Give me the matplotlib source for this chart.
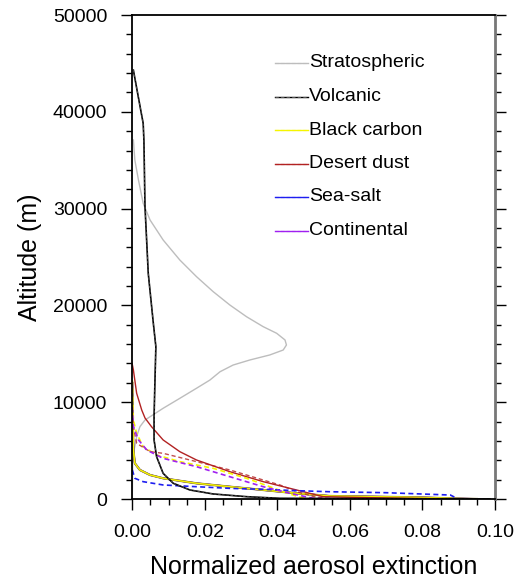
import matplotlib
matplotlib.use("Agg")
import matplotlib.pyplot as plt
from matplotlib.ticker import MultipleLocator

plt.rcParams['font.family'] = ['Liberation Sans', 'DejaVu Sans']

# --- data (altitude in m, normalized extinction) ---
strat_alt = [37090, 35020, 32950, 30550, 28820, 26760, 24690, 22970, 21420, 20040,
             18830, 17800, 17120, 16430, 15910, 15390, 14880, 14360, 13840, 13150,
             12290, 11440, 10400, 9370, 8500, 8160, 7470, 6440, 5060, 3720, 0]
strat_ext = [0.0003, 0.0007, 0.0017, 0.003, 0.0049, 0.0085, 0.0131, 0.0177, 0.0223, 0.0269,
             0.0315, 0.0361, 0.0398, 0.0421, 0.0425, 0.0416, 0.0379, 0.0324, 0.0278, 0.0242,
             0.0214, 0.0177, 0.0131, 0.0085, 0.0049, 0.0035, 0.0021, 0.0012, 0.0005, 0.0001, 0.0]

volc_alt = [44300, 38800, 37090, 30200, 23310, 18150, 15730, 12990, 8500, 6100, 4370,
            2650, 1620, 930, 520, 240, 70, 0]
volc_ext = [0.0003, 0.003, 0.0032, 0.0035, 0.0044, 0.0058, 0.0065, 0.0063, 0.006, 0.006, 0.0067,
            0.0085, 0.0113, 0.0159, 0.0223, 0.0315, 0.0407, 0.0986]

bc_alt = [12000, 9000, 7000, 5060, 3690, 3000, 2480, 2140, 1620, 1270, 930, 590, 310, 170, 70, 0]
bc_ext = [0.0, 0.0001, 0.0002, 0.0003, 0.0007, 0.0021, 0.0049, 0.0085, 0.0177, 0.0269, 0.0361,
          0.0453, 0.0545, 0.0787, 0.0877, 0.095]

bc_d_alt = [12300, 10000, 8160, 6790, 5400, 4550, 3860, 3170, 2140, 1270, 520, 0]
bc_d_ext = [0.0, 0.0001, 0.0003, 0.0012, 0.003, 0.0067, 0.0131, 0.0223, 0.0315, 0.0379, 0.0434, 0.048]

dust_alt = [13900, 13330, 10920, 9190, 8370, 7470, 6100, 4890, 4030, 2820, 1790, 930, 240, 100, 0]
dust_ext = [0.0, 0.0003, 0.0012, 0.0026, 0.0035, 0.0053, 0.0085, 0.0131, 0.0177, 0.0269, 0.0361,
            0.0453, 0.0526, 0.070, 0.09]

dust_d_alt = [9000, 7470, 5750, 4890, 4720, 3860, 3000, 1960, 1450, 750, 170, 0]
dust_d_ext = [0.0, 0.0003, 0.0012, 0.0049, 0.0085, 0.0177, 0.0269, 0.0361, 0.0407, 0.0453, 0.0508, 0.056]

salt_d_alt = [3000, 2140, 1790, 1450, 1270, 1100, 1000, 860, 750, 650, 410, 200]
salt_d_ext = [0.0, 0.0007, 0.003, 0.0085, 0.0177, 0.0269, 0.0361, 0.0453, 0.0545, 0.07, 0.0877, 0.0888]

cont_d_alt = [9500, 7470, 6100, 5060, 4200, 3340, 2300, 1270, 590, 70, 0]
cont_d_ext = [0.0, 0.0003, 0.0017, 0.004, 0.0085, 0.0177, 0.0269, 0.0361, 0.0434, 0.0499, 0.06]

labels = ['Stratospheric', 'Volcanic', 'Black carbon', 'Desert dust', 'Sea-salt', 'Continental']
colors = ['#bdbdbd', 'black', '#f5f500', '#b22222', '#1e1ef0', '#a020f0']

dash = (0, (3, 2))

fig = plt.figure(figsize=(5.15, 5.8), dpi=100)
ax = fig.add_axes([132.3 / 515, 1 - 499 / 580, (495 - 132.3) / 515, 484 / 580])

# solid curves (blue / purple solid coincide with the black carbon one)
ax.plot(strat_ext, strat_alt, color=colors[0], lw=1.0)
ax.plot(bc_ext, bc_alt, color=colors[5], lw=1.3)
ax.plot(bc_ext, bc_alt, color=colors[4], lw=1.2)
ax.plot(bc_ext, bc_alt, color='#8a7a30', lw=1.6)
ax.plot(bc_ext, bc_alt, color=colors[2], lw=1.0)
ax.plot(dust_ext, dust_alt, color=colors[3], lw=1.0)

# dashed curves
ax.plot(bc_d_ext, bc_d_alt, color=colors[2], lw=1.2, ls=dash)
ax.plot(dust_d_ext, dust_d_alt, color=colors[3], lw=1.0, ls=dash, alpha=0.8)
ax.plot(salt_d_ext, salt_d_alt, color=colors[4], lw=1.2, ls=dash)
ax.plot(cont_d_ext, cont_d_alt, color=colors[5], lw=1.2, ls=dash)

ax.plot(volc_ext, volc_alt, color='black', lw=1.2)
ax.plot(volc_ext, volc_alt, color='#555555', lw=0.6, ls=dash)

ax.set_xlim(0, 0.10)
ax.set_ylim(0, 50000)
ax.xaxis.set_major_locator(MultipleLocator(0.02))
ax.xaxis.set_minor_locator(MultipleLocator(0.005))
ax.yaxis.set_major_locator(MultipleLocator(10000))
ax.yaxis.set_minor_locator(MultipleLocator(2000))
ax.xaxis.set_major_formatter(plt.FuncFormatter(lambda v, p: f'{v:.2f}'))
ax.yaxis.set_major_formatter(plt.FuncFormatter(lambda v, p: f'{int(v)}'))
ax.tick_params(which='both', direction='out', top=False, right=True, width=1.0,
               labelsize=14, pad=10)
ax.tick_params(which='major', length=8)
ax.tick_params(which='minor', length=4)
for s in ax.spines.values():
    s.set_linewidth(1.3)
ax.spines['right'].set_color('#777777')
ax.spines['right'].set_linewidth(2)

ax.set_xlabel('Normalized aerosol extinction', fontsize=18, labelpad=10)
ax.set_ylabel('Altitude (m)', fontsize=18, labelpad=8)

# legend drawn by hand
row_y = [62.7, 96.7, 130.3, 164, 196.7, 230.7]
for lab, col, yp in zip(labels, colors, row_y):
    yf = 1 - (yp - 15) / 484
    x0 = (275 - 132.3) / 362.7
    x1 = (308 - 132.3) / 362.7
    ax.plot([x0, x1], [yf, yf], color=col, lw=1.0, transform=ax.transAxes)
    ax.plot([x0, x1], [yf, yf], color='#555555' if lab == 'Volcanic' else col,
            lw=0.8, ls=dash, transform=ax.transAxes)
    ax.text(x1 + 0.002, yf, lab, fontsize=14, va='center', ha='left',
            transform=ax.transAxes)

fig.savefig('out.png', dpi=100)
